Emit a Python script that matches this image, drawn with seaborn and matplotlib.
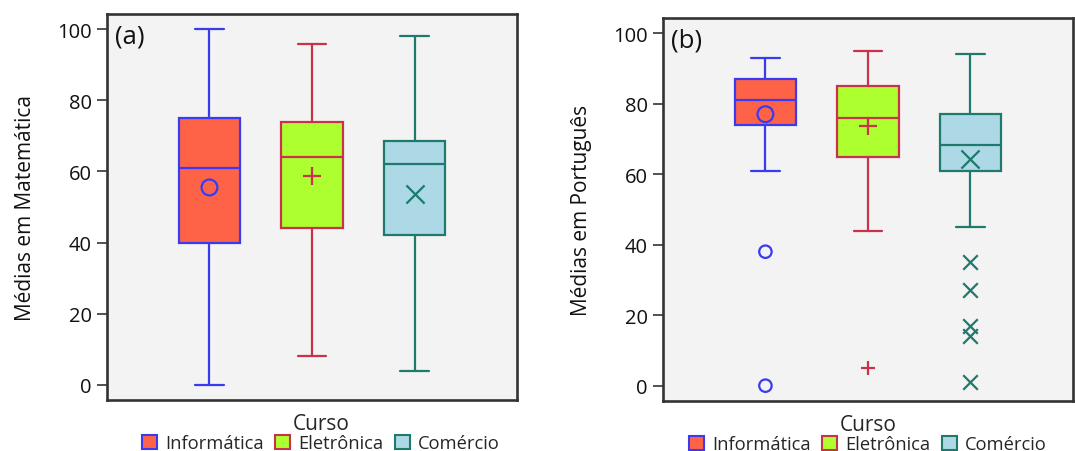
import matplotlib
matplotlib.use("Agg")
import matplotlib.pyplot as plt
from matplotlib.patches import Patch
import seaborn as sns
import pandas as pd

sns.set_theme(style="white")
plt.rcParams['font.family'] = ['Open Sans', 'DejaVu Sans']

cursos = ["Informática", "Eletrônica", "Comércio"]
fills = ["#FF6347", "#ADFF2F", "#ADD8E6"]
edges = ["#3A3AF0", "#C8324A", "#1E7A6C"]
markers = ["o", "+", "x"]

# Panel (a): Matemática
mat_whislo = [0, 8, 4]
mat_q1 = [40, 44, 42]
mat_med = [61, 64, 62]
mat_q3 = [75, 74, 68.5]
mat_whishi = [100, 96, 98]
mat_mean = [55.5, 58.8, 53.8]
mat_out = [[], [], []]

# Panel (b): Português
por_whislo = [61, 44, 45]
por_q1 = [74, 65, 61]
por_med = [81, 76, 68.4]
por_q3 = [87, 85, 77]
por_whishi = [93, 95, 94]
por_mean = [77, 73.6, 64.2]
por_out = [[38, 0], [5], [35, 27, 17, 14, 1]]

yticks = [0, 20, 40, 60, 80, 100]

fig = plt.figure(figsize=(10.75, 4.52), dpi=100)
ax1 = fig.add_axes([0.0995, 0.1128, 0.3815, 0.854])
ax2 = fig.add_axes([0.6167, 0.111, 0.3813, 0.847])


def draw(ax, whislo, q1, med, q3, whishi, mean, out, ylabel, tag, legx):
    ax.set_facecolor("#F3F3F3")
    for i in range(3):
        st = [dict(whislo=whislo[i], q1=q1[i], med=med[i], q3=q3[i],
                   whishi=whishi[i], fliers=[], label=cursos[i])]
        ax.bxp(st, positions=[i], widths=0.6, showfliers=False, patch_artist=True,
               showcaps=True,
               boxprops=dict(facecolor=fills[i], edgecolor=edges[i], linewidth=1.6),
               medianprops=dict(color=edges[i], linewidth=1.6),
               whiskerprops=dict(color=edges[i], linewidth=1.6),
               capprops=dict(color=edges[i], linewidth=1.6),
               capwidths=0.28, zorder=2)
        df_mean = pd.DataFrame({"x": [i], "y": [mean[i]]})
        sns.scatterplot(data=df_mean, x="x", y="y", ax=ax, marker=markers[i],
                        s=170 if markers[i] != "o" else 130,
                        facecolors="none" if markers[i] == "o" else edges[i],
                        edgecolor=edges[i], color=edges[i],
                        linewidth=1.6, zorder=4, legend=False)
        if out[i]:
            df_out = pd.DataFrame({"x": [i] * len(out[i]), "y": out[i]})
            sns.scatterplot(data=df_out, x="x", y="y", ax=ax, marker=markers[i],
                            s=110 if markers[i] != "o" else 80,
                            facecolors="none" if markers[i] == "o" else edges[i],
                            edgecolor=edges[i], color=edges[i],
                            linewidth=1.6, zorder=4, legend=False)
    ax.set_xlim(-1, 3)
    ax.set_ylim(-4.3, 104.3)
    ax.set_xticks([])
    ax.set_yticks(yticks)
    ax.set_yticklabels([str(t) for t in yticks], fontsize=14.5, color="#111111")
    ax.tick_params(axis="y", left=True, length=7, width=1.2, color="#333333", pad=4)
    ax.set_xlabel("")
    ax.set_ylabel(ylabel, fontsize=15, color="#111111", labelpad=15)
    for sp in ax.spines.values():
        sp.set_color("#333333")
        sp.set_linewidth(1.9)
    ax.text(0.02, 0.975, tag, transform=ax.transAxes, ha="left", va="top",
            fontsize=18.5, color="#111111")
    handles = [Patch(facecolor=fills[i], edgecolor=edges[i], linewidth=1.5, label=cursos[i])
               for i in range(3)]
    leg = ax.legend(handles=handles, title="Curso", ncol=3, loc="upper center",
                    bbox_to_anchor=(legx, -0.006), frameon=False, fontsize=13.2,
                    title_fontsize=15, handlelength=0.8, handleheight=0.8,
                    handletextpad=0.45, columnspacing=0.65, borderpad=0.1,
                    labelspacing=0.2)
    leg._legend_box.sep = 0


draw(ax1, mat_whislo, mat_q1, mat_med, mat_q3, mat_whishi, mat_mean, mat_out,
     "Médias em Matemática", "(a)", 0.522)
draw(ax2, por_whislo, por_q1, por_med, por_q3, por_whishi, por_mean, por_out,
     "Médias em Português", "(b)", 0.5)

fig.savefig("out.png", dpi=100, facecolor="white")
